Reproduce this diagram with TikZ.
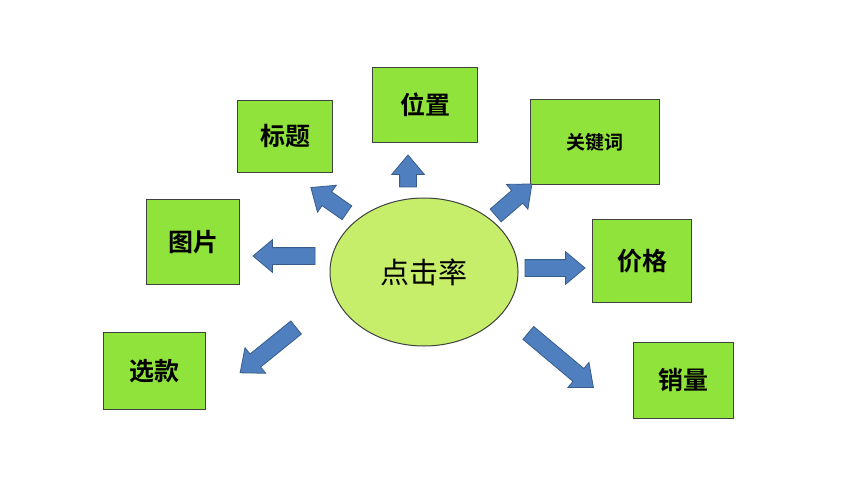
\documentclass[tikz,border=0pt]{standalone}
\usepackage{fontspec}
\newfontfamily\cjk{Noto Sans CJK SC}
\newfontfamily\cjkb{Noto Sans CJK SC Bold}
\usetikzlibrary{shapes.arrows,shapes.geometric}
\definecolor{boxg}{HTML}{8FE33A}
\definecolor{circg}{HTML}{C6EE6A}
\definecolor{arrb}{HTML}{4F7FBF}
\definecolor{arrd}{HTML}{385D8A}
\tikzset{
 box/.style={draw=black!75,line width=1pt,fill=boxg,inner sep=0pt,font=\cjkb\fontsize{25}{25}\selectfont},
 barrow/.style={single arrow,draw=arrd,fill=arrb,line width=0.8pt,single arrow head extend=8pt,single arrow tip angle=80,inner xsep=0pt,inner ysep=8pt,text height=0pt,text depth=0pt}
}
\begin{document}
\begin{tikzpicture}[x=1pt,y=-1pt]
\useasboundingbox[fill=white] (0,0) rectangle (850,485);
\node[draw=black!75,line width=1pt,fill=circg,ellipse,minimum width=188pt,minimum height=148pt,font=\cjk\fontsize{29}{29}\selectfont] (c) at (424,272) {点击率};
\node[box,minimum width=105pt,minimum height=75pt] (wz) at (425,105) {位置};
\node[box,minimum width=95pt,minimum height=72pt] (bt) at (285,136) {标题};
\node[box,minimum width=129pt,minimum height=85pt,font=\cjkb\fontsize{19}{19}\selectfont] (gjc) at (595,142) {关键词};
\node[box,minimum width=93pt,minimum height=85pt] (tp) at (193,242) {图片};
\node[box,minimum width=99pt,minimum height=83pt] (jg) at (642,261) {价格};
\node[box,minimum width=102pt,minimum height=77pt] (xk) at (154,371) {选款};
\node[box,minimum width=100pt,minimum height=76pt] (xl) at (683,380) {销量};
\node[barrow,minimum height=32pt,rotate=90] (a1) at (408,176) {};
\node[barrow,minimum height=44pt,rotate=145] (a2) at (333,203) {};
\node[barrow,minimum height=48pt,rotate=41] (a3) at (510,203) {};
\node[barrow,minimum height=62pt,rotate=180] (a4) at (289,256) {};
\node[barrow,minimum height=60pt,rotate=0] (a5) at (550,268) {};
\node[barrow,minimum height=72pt,rotate=219] (a6) at (272,347) {};
\node[barrow,minimum height=85pt,rotate=-40] (a7) at (557,357) {};
\end{tikzpicture}
\end{document}
